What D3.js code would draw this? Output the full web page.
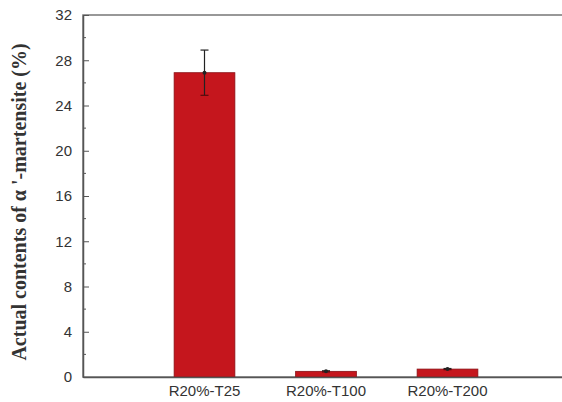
<!DOCTYPE html>
<html lang="en">
	<head>
		<meta charset="utf-8">
		<title>Actual contents of martensite</title>
		<style>
			body { margin: 0; background: #fff; }
			svg { display: block; }
			.tick text { font-family: "Liberation Sans", Arial, sans-serif; font-size: 15px; fill: #333; }
		</style>
	</head>
	<body>
		<script src="https://cdn.jsdelivr.net/npm/d3@7/dist/d3.min.js"></script>
		<script>
			// data
			var categories = ["R20%-T25", "R20%-T100", "R20%-T200"];
			var values = [26.9, 0.5, 0.7];
			var errors = [2.0, 0.05, 0.05];
			var yTicks = [0, 4, 8, 12, 16, 20, 24, 28, 32];

			var w = 562, h = 402;
			var plotLeft = 83, plotTop = 15, plotBottom = 377, plotRight = 569;

			var svg = d3.select("body").append("svg")
				.attr("width", w)
				.attr("height", h);

			var x = d3.scaleBand()
				.domain(categories)
				.range([plotLeft, plotRight])
				.paddingInner(0.5)
				.paddingOuter(0.75);

			var y = d3.scaleLinear()
				.domain([0, 32])
				.range([plotBottom, plotTop]);

			// frame (top line, right side is off the page)
			svg.append("rect")
				.attr("x", plotLeft)
				.attr("y", plotTop)
				.attr("width", plotRight - plotLeft)
				.attr("height", plotBottom - plotTop)
				.attr("fill", "none")
				.attr("stroke", "#777")
				.attr("stroke-width", 1.5);

			// bars
			svg.selectAll("rect.bar")
				.data(values)
				.enter()
				.append("rect")
				.attr("class", "bar")
				.attr("x", function(d, i) { return x(categories[i]); })
				.attr("y", function(d) { return y(d); })
				.attr("width", x.bandwidth())
				.attr("height", function(d) { return plotBottom - y(d); })
				.attr("fill", "#c5161d")
				.attr("stroke", "#8a1015")
				.attr("stroke-width", 0.8);

			// error bars
			var eb = svg.selectAll("g.err")
				.data(values)
				.enter()
				.append("g")
				.attr("class", "err")
				.attr("transform", function(d, i) {
					return "translate(" + (x(categories[i]) + x.bandwidth() / 2) + ",0)";
				});

			eb.append("line")
				.attr("y1", function(d, i) { return y(d - errors[i]); })
				.attr("y2", function(d, i) { return y(d + errors[i]); })
				.attr("stroke", "#222")
				.attr("stroke-width", 1.2);

			eb.append("line")
				.attr("x1", -4).attr("x2", 4)
				.attr("y1", function(d, i) { return y(d + errors[i]); })
				.attr("y2", function(d, i) { return y(d + errors[i]); })
				.attr("stroke", "#222")
				.attr("stroke-width", 1.2);

			eb.append("line")
				.attr("x1", -4).attr("x2", 4)
				.attr("y1", function(d, i) { return y(d - errors[i]); })
				.attr("y2", function(d, i) { return y(d - errors[i]); })
				.attr("stroke", "#5a0a0d")
				.attr("stroke-width", 1.2);

			eb.append("circle")
				.attr("cy", function(d) { return y(d); })
				.attr("r", 2)
				.attr("fill", "#222");

			// minor ticks, pointing inside
			svg.append("g")
				.attr("transform", "translate(" + plotLeft + ",0)")
				.selectAll("line")
				.data(d3.range(2, 32, 4))
				.enter()
				.append("line")
				.attr("x1", 0).attr("x2", 3)
				.attr("y1", function(d) { return y(d); })
				.attr("y2", function(d) { return y(d); })
				.attr("stroke", "#555");

			// y axis
			var yAxis = svg.append("g")
				.attr("transform", "translate(" + plotLeft + ",0)")
				.call(d3.axisLeft(y).tickValues(yTicks).tickSizeInner(-6).tickSizeOuter(0).tickPadding(11));
			yAxis.select(".domain").attr("stroke", "#555").attr("stroke-width", 1.5);
			yAxis.selectAll(".tick line").attr("stroke", "#555");

			// x axis
			var xAxis = svg.append("g")
				.attr("transform", "translate(0," + plotBottom + ")")
				.call(d3.axisBottom(x).tickSize(0).tickPadding(8));
			xAxis.select(".domain").attr("stroke", "#555").attr("stroke-width", 1.5);

			// y label
			svg.append("text")
				.attr("transform", "translate(26," + 202 + ") rotate(-90)")
				.attr("text-anchor", "middle")
				.style("font-family", "'Liberation Serif', 'Times New Roman', serif")
				.style("font-weight", "bold")
				.style("font-size", "20px")
				.attr("fill", "#333")
				.text("Actual contents of \u03b1 '-martensite (%)");
		</script>
	</body>
</html>
